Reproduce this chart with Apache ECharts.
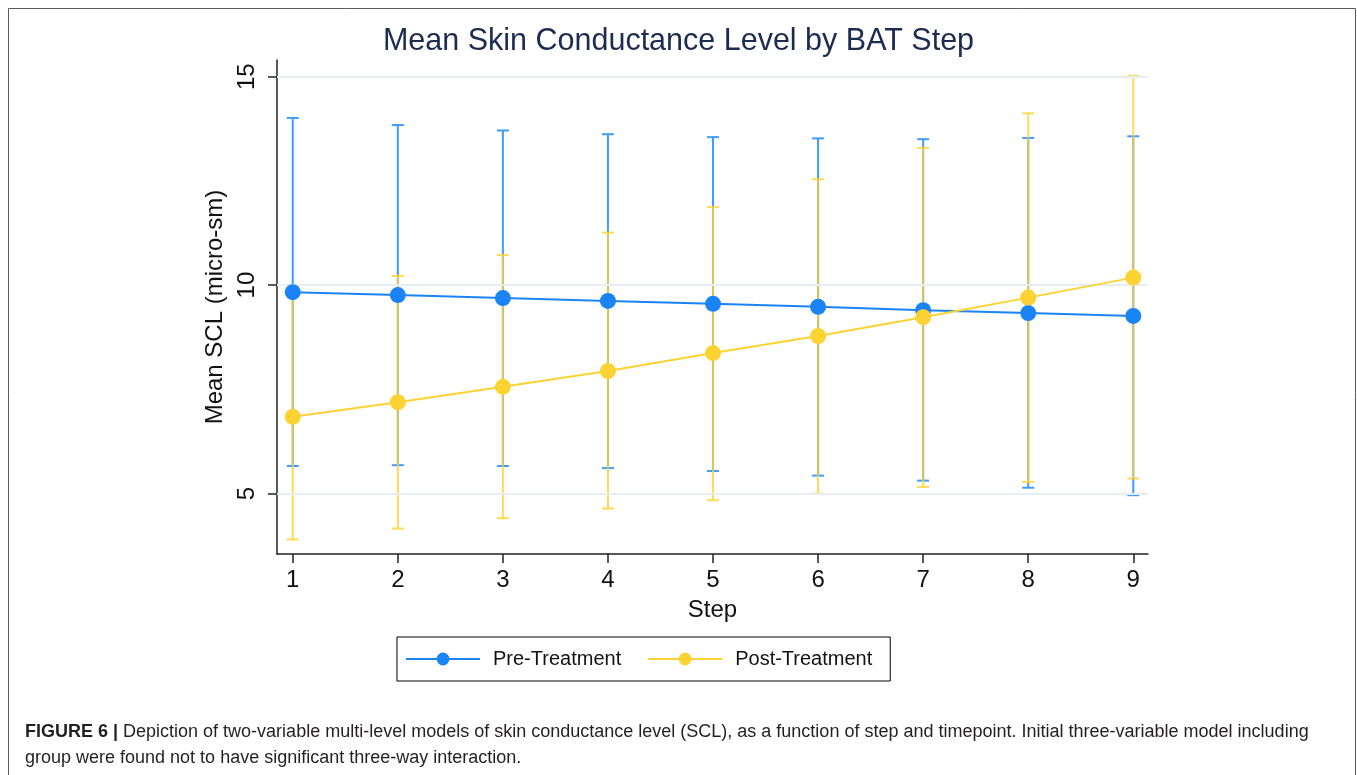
<!DOCTYPE html>
<html>
<head>
<meta charset="utf-8">
<script src="https://cdn.jsdelivr.net/npm/echarts@6/dist/echarts.min.js"></script>
<style>
  html, body { margin: 0; padding: 0; background: #fff; }
  #container { width: 1357px; height: 775px; }
</style>
</head>
<body>
<div id="container"></div>
<script>
var steps = [1, 2, 3, 4, 5, 6, 7, 8, 9];
var preMean = [9.83, 9.76, 9.69, 9.62, 9.55, 9.48, 9.40, 9.33, 9.26];
var preLow = [5.66, 5.68, 5.66, 5.61, 5.54, 5.43, 5.31, 5.14, 4.96];
var preHigh = [14.01, 13.84, 13.71, 13.62, 13.55, 13.52, 13.50, 13.53, 13.57];
var postMean = [6.84, 7.19, 7.56, 7.94, 8.37, 8.78, 9.23, 9.70, 10.18];
var postLow = [3.90, 4.16, 4.41, 4.64, 4.84, 5.00, 5.16, 5.28, 5.36];
var postHigh = [9.76, 10.22, 10.72, 11.26, 11.87, 12.54, 13.29, 14.12, 15.02];
var yTicks = [5, 10, 15];

var FONT = '"Liberation Sans", Arial, Helvetica, sans-serif';
var BLUE = '#1a84f6';
var YELLOW = '#fdd333';

var dom = document.getElementById('container');
var myChart = echarts.init(dom, null, { renderer: 'canvas' });

function pairs(a) {
    return steps.map(function (s, i) { return [s, a[i]]; });
}

// vertical whisker with caps at both ends
function errorBars(lo, hi, color, opacity, z) {
    return {
        type: 'custom',
        z: z,
        silent: true,
        encode: { x: 0, y: [1, 2] },
        renderItem: function (params, api) {
            var x = api.value(0);
            var pLo = api.coord([x, api.value(1)]);
            var pHi = api.coord([x, api.value(2)]);
            var w = 6;
            var st = { stroke: color, lineWidth: 2, opacity: opacity };
            return {
                type: 'group',
                children: [
                    { type: 'line', shape: { x1: pLo[0], y1: pLo[1], x2: pHi[0], y2: pHi[1] }, style: st },
                    { type: 'line', shape: { x1: pLo[0] - w, y1: pLo[1], x2: pLo[0] + w, y2: pLo[1] }, style: st },
                    { type: 'line', shape: { x1: pHi[0] - w, y1: pHi[1], x2: pHi[0] + w, y2: pHi[1] }, style: st }
                ]
            };
        },
        data: steps.map(function (s, i) { return [s, lo[i], hi[i]]; })
    };
}

var preBars = errorBars(preLow, preHigh, '#3f9cff', 1, 2);
preBars.markLine = {
    silent: true,
    symbol: 'none',
    label: { show: false },
    lineStyle: { color: '#e7eef3', width: 2, type: 'solid' },
    data: yTicks.map(function (v) { return { yAxis: v }; })
};

option = {
    animation: false,
    backgroundColor: '#fff',
    textStyle: { fontFamily: FONT },
    title: {
        text: 'Mean Skin Conductance Level by BAT Step',
        left: 'center',
        top: 21,
        textStyle: { color: '#1c2c50', fontSize: 30.5, fontWeight: 'normal', fontFamily: FONT }
    },
    graphic: [
        {
            type: 'rect',
            shape: { x: 8.5, y: 8.5, width: 1347, height: 800 },
            style: { fill: 'none', stroke: '#5a5a5a', lineWidth: 1 },
            silent: true
        },
        {
            type: 'text',
            left: 25,
            top: 719,
            style: {
                text: '{b|FIGURE 6 |} Depiction of two-variable multi-level models of skin conductance level (SCL), as a function of step and timepoint. Initial three-variable model including\ngroup were found not to have significant three-way interaction.',
                font: '18px ' + FONT,
                fill: '#231f20',
                lineHeight: 26,
                rich: {
                    b: { fontWeight: 'bold', fontSize: 18, fontFamily: FONT, fill: '#231f20' }
                }
            }
        }
    ],
    legend: {
        data: ['Pre-Treatment', 'Post-Treatment'],
        left: 397,
        top: 637,
        orient: 'horizontal',
        padding: [12, 18, 12, 8],
        borderColor: '#000',
        borderWidth: 1,
        itemWidth: 74,
        itemHeight: 16,
        itemGap: 26,
        textStyle: { fontSize: 20, color: '#111', fontFamily: FONT, padding: [0, 0, 0, 8] }
    },
    grid: { left: 277, right: 209, top: 60, bottom: 221, containLabel: false },
    xAxis: {
        type: 'value',
        min: 0.85,
        max: 9.14,
        name: 'Step',
        nameLocation: 'middle',
        nameGap: 44,
        nameTextStyle: { fontSize: 24, color: '#111', fontFamily: FONT },
        axisLine: { lineStyle: { color: '#222', width: 1.5 } },
        axisTick: { show: true, length: 9, lineStyle: { color: '#222', width: 1.5 }, customValues: steps },
        axisLabel: { fontSize: 24, color: '#111', margin: 14, customValues: steps },
        splitLine: { show: false }
    },
    yAxis: {
        type: 'value',
        min: 3.55,
        max: 15.4,
        name: 'Mean SCL (micro-sm)',
        nameLocation: 'middle',
        nameGap: 38,
        nameTextStyle: { fontSize: 24, color: '#111', fontFamily: FONT },
        axisLine: { show: true, lineStyle: { color: '#222', width: 1.5 } },
        axisTick: { show: true, length: 9, lineStyle: { color: '#222', width: 1.5 }, customValues: yTicks },
        axisLabel: { fontSize: 24, color: '#111', rotate: 90, margin: 18, customValues: yTicks },
        splitLine: { show: false }
    },
    series: [
        preBars,
        errorBars(postLow, postHigh, '#ffd12e', 0.8, 3),
        {
            name: 'Pre-Treatment',
            type: 'line',
            z: 5,
            data: pairs(preMean),
            symbol: 'circle',
            symbolSize: 16,
            lineStyle: { color: BLUE, width: 2 },
            itemStyle: { color: BLUE }
        },
        {
            name: 'Post-Treatment',
            type: 'line',
            z: 6,
            data: pairs(postMean),
            symbol: 'circle',
            symbolSize: 16,
            lineStyle: { color: YELLOW, width: 2 },
            itemStyle: { color: YELLOW }
        }
    ]
};
myChart.setOption(option);

window.addEventListener('resize', function () {
    myChart.resize();
});
</script>
</body>
</html>
